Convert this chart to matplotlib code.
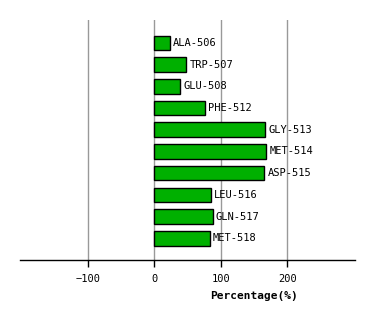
import matplotlib
matplotlib.use("Agg")
import matplotlib.pyplot as plt

residues = ["ALA-506", "TRP-507", "GLU-508", "PHE-512", "GLY-513",
            "MET-514", "ASP-515", "LEU-516", "GLN-517", "MET-518"]
percentages = [23, 48, 38, 75.5, 167, 168.5, 165.5, 84.5, 87.5, 83]
xticks = [-100, 0, 100, 200]

fig = plt.figure(figsize=(3.74, 3.2), dpi=100)
ax = fig.add_axes([20/374, 60/320, 334.7/374, 240/320])

ypos = list(range(len(residues)))
ax.barh(ypos, percentages, height=0.67, color="#00b000", edgecolor="black",
        linewidth=1, zorder=3)
for y, v, name in zip(ypos, percentages, residues):
    ax.text(v + 5, y, name, va="center", ha="left", fontsize=7.5,
            family="DejaVu Sans Mono", zorder=4)

ax.set_xlim(-202.5, 301.6)
ax.set_ylim(10, -1.05)
ax.set_xticks(xticks)
ax.set_xticklabels([f"\u2212{abs(t)}" if t < 0 else str(t) for t in xticks],
                   family="DejaVu Sans Mono", fontsize=7.5)
ax.set_yticks([])
ax.grid(axis="x", color="#999999", linewidth=1, zorder=0)
for s in ["top", "left", "right"]:
    ax.spines[s].set_visible(False)
ax.spines["bottom"].set_linewidth(1)
ax.tick_params(axis="x", length=5, width=1, color="black", pad=5)
ax.set_xlabel("Percentage(%)", fontsize=8, fontweight="bold",
              family="DejaVu Sans Mono")
ax.xaxis.set_label_coords((254 - 20) / 334.7, -0.13)

fig.savefig("out.png", dpi=100)
